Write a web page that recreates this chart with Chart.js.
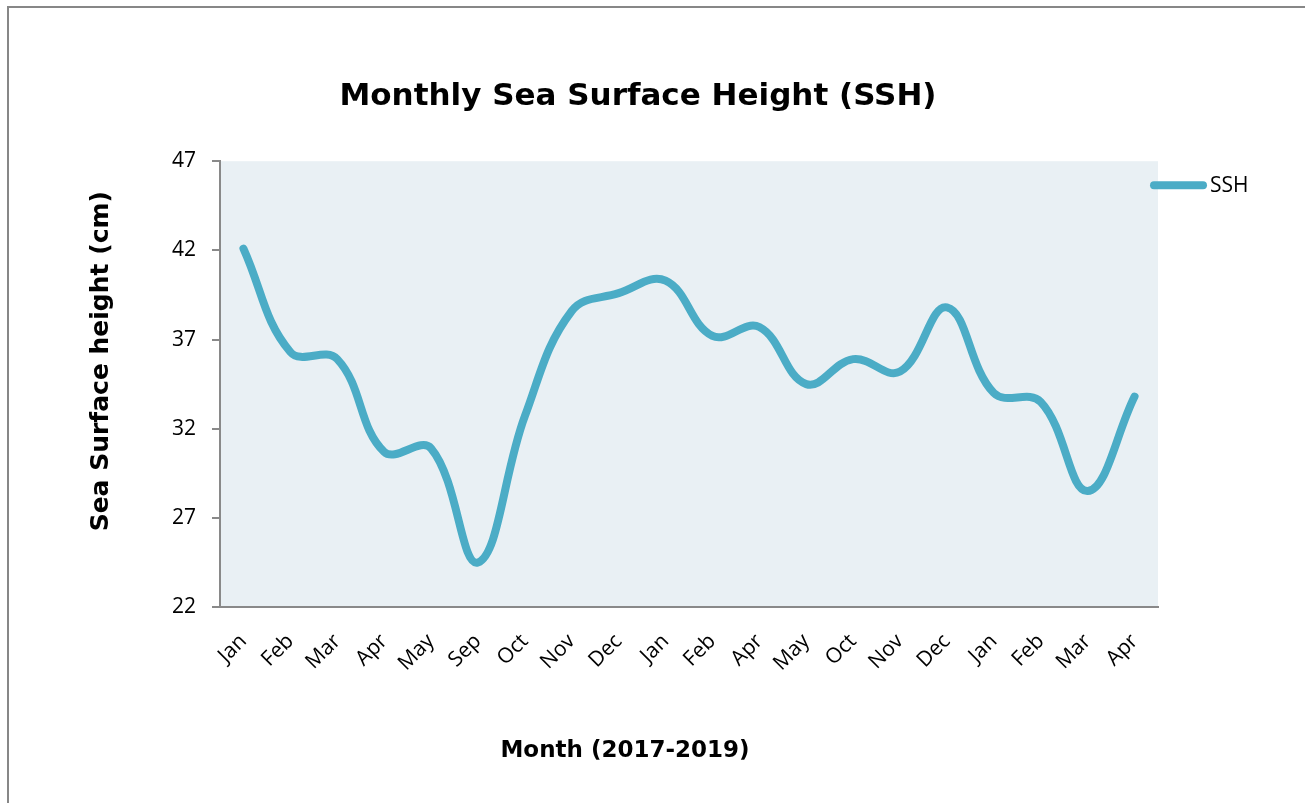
<!DOCTYPE html>
<html>
<head>
<meta charset="utf-8">
<title>Monthly Sea Surface Height (SSH)</title>
<script src="https://cdn.jsdelivr.net/npm/chart.js@4/dist/chart.umd.min.js"></script>
<style>
    body { margin: 0; background: #fff; }
    #wrap { position: relative; width: 1305px; height: 803px; overflow: hidden; }
    #frame {
        position: absolute; left: 7px; top: 6px; width: 1296px; height: 900px;
        border-left: 2px solid #878787; border-top: 2px solid #878787; border-right: 1px solid #ececec;
    }
    #chart { position: absolute; left: 0; top: 0; }
</style>
</head>
<body>
<div id="wrap">
    <div id="frame"></div>
    <canvas id="chart" width="1305" height="803"></canvas>
</div>
<script>
// data (Jan 2017 - Apr 2019, months with data only)
const months = ['Jan', 'Feb', 'Mar', 'Apr', 'May', 'Sep', 'Oct', 'Nov', 'Dec', 'Jan',
                'Feb', 'Apr', 'May', 'Oct', 'Nov', 'Dec', 'Jan', 'Feb', 'Mar', 'Apr'];
const sshValues = [42.1, 36.3, 35.9, 30.7, 30.9, 24.5, 32.7, 38.6, 39.6, 40.3,
                   37.2, 37.7, 34.5, 35.9, 35.2, 38.8, 34.0, 33.5, 28.5, 33.8];
const yTicks = [22, 27, 32, 37, 42, 47];

const lineColor = '#4BACC6';
const axisColor = '#898989';
const tickFont = { family: 'Open Sans', size: 21 };

// 圖表區背景 + 座標軸標題 + 圖例
const extras = {
    id: 'extras',
    beforeDraw(chart) {
        const { ctx, chartArea: a } = chart;
        ctx.save();
        ctx.fillStyle = '#E9F0F4';
        ctx.fillRect(a.left, a.top, a.right - a.left, a.bottom - a.top);
        ctx.restore();
    },
    afterDraw(chart) {
        const { ctx, chartArea: a } = chart;
        ctx.save();
        ctx.fillStyle = '#000';
        ctx.textAlign = 'center';
        ctx.textBaseline = 'middle';
        ctx.font = 'bold 23px "DejaVu Sans"';
        ctx.fillText('Month (2017-2019)', a.left + 405, a.bottom + 144);

        ctx.translate(a.left - 119, a.top + 200);
        ctx.rotate(-Math.PI / 2);
        ctx.font = 'bold 25px "DejaVu Sans"';
        ctx.fillText('Sea Surface height (cm)', 0, 0);
        ctx.restore();

        // legend
        const ds = chart.data.datasets[0];
        const ly = a.top + 24;
        ctx.save();
        ctx.strokeStyle = ds.borderColor;
        ctx.lineWidth = ds.borderWidth;
        ctx.lineCap = 'round';
        ctx.beginPath();
        ctx.moveTo(a.right - 4, ly);
        ctx.lineTo(a.right + 45, ly);
        ctx.stroke();
        ctx.fillStyle = '#000';
        ctx.font = '21px "Open Sans"';
        ctx.textAlign = 'left';
        ctx.textBaseline = 'middle';
        ctx.fillText(ds.label, a.right + 52, ly + 1);
        ctx.restore();
    }
};

new Chart(document.getElementById('chart'), {
    type: 'line',
    data: {
        labels: months,
        datasets: [{
            label: 'SSH',
            data: sshValues,
            borderColor: lineColor,
            borderWidth: 8,
            borderCapStyle: 'round',
            borderJoinStyle: 'round',
            tension: 0.4,
            pointRadius: 0,
            fill: false
        }]
    },
    options: {
        responsive: false,
        animation: false,
        layout: { padding: { left: 118, right: 147, top: 0, bottom: 0 } },
        plugins: {
            legend: { display: false },
            tooltip: { enabled: false },
            title: {
                display: true,
                text: 'Monthly Sea Surface Height (SSH)',
                color: '#000',
                font: { family: 'DejaVu Sans', size: 31, weight: 'bold' },
                padding: { top: 78, bottom: 46 }
            }
        },
        scales: {
            x: {
                offset: true,
                grid: { display: false, drawTicks: false, offset: true },
                border: { display: true, color: axisColor, width: 2 },
                ticks: {
                    color: '#000', font: tickFont, autoSkip: false,
                    maxRotation: 45, minRotation: 45, padding: 22
                },
                afterFit(scale) { scale.height = 196; }
            },
            y: {
                min: 22,
                max: 47,
                afterBuildTicks(scale) { scale.ticks = yTicks.map(v => ({ value: v })); },
                grid: { drawOnChartArea: false, drawTicks: true, tickLength: 8, color: axisColor, lineWidth: 2 },
                border: { display: true, color: axisColor, width: 2 },
                ticks: { color: '#000', font: tickFont, padding: 16 },
                afterFit(scale) { scale.width = 102; }
            }
        }
    },
    plugins: [extras]
});
</script>
</body>
</html>
